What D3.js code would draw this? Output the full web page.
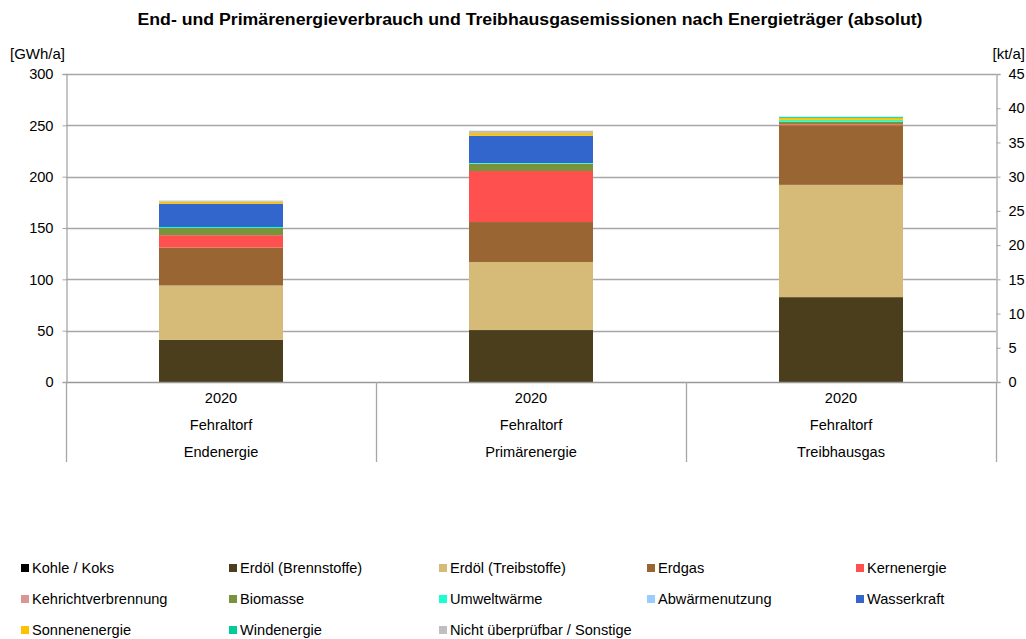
<!DOCTYPE html>
<html><head><meta charset="utf-8">
<script src="https://cdn.jsdelivr.net/npm/d3@7"></script>
<style>body{margin:0;background:#fff;} text{font-family:"Liberation Sans",Arial,sans-serif;fill:#000;}</style>
</head><body><svg id="c" width="1026" height="639"></svg>
<script>
const title = "End- und Primärenergieverbrauch und Treibhausgasemissionen nach Energieträger (absolut)";
const years = ["2020","2020","2020"];
const places = ["Fehraltorf","Fehraltorf","Fehraltorf"];
const categories = ["Endenergie","Primärenergie","Treibhausgas"];
const series = ["Kohle / Koks","Erdöl (Brennstoffe)","Erdöl (Treibstoffe)","Erdgas","Kernenergie",
  "Kehrichtverbrennung","Biomasse","Umweltwärme","Abwärmenutzung","Wasserkraft",
  "Sonnenenergie","Windenergie","Nicht überprüfbar / Sonstige"];
const colors = ["#000000","#4b3e1c","#d6bb78","#996633","#ff5050","#d99694","#77933c",
  "#1affd0","#99ccff","#3366cc","#ffc000","#00cc99","#bfbfbf"];
// GWh/a
const endenergie = [0, 41, 53, 37, 12, 0, 7, 1, 0, 22.7, 2, 0, 1];
const primaerenergie = [0, 50.6, 66.3, 38.9, 49.7, 0, 7.1, 0.7, 0, 26.6, 2.6, 0, 2.3];
// kt/a
const treibhausgas = [0, 12.4, 16.4, 8.6, 0.2, 0, 0.45, 0.25, 0, 0, 0.3, 0.15, 0];
const leftTicks = [0,50,100,150,200,250,300];
const rightTicks = [0,5,10,15,20,25,30,35,40,45];

const FS = "14.6px";
const svg = d3.select("#c");
const L = 66, R = 996, T = 74, B = 382;
const x = d3.scaleBand().domain(categories).range([L, R]).paddingInner(0).paddingOuter(0);
const yL = d3.scaleLinear().domain([0,300]).range([B, T]);
const yR = d3.scaleLinear().domain([0,45]).range([B, T]);

svg.append("text").attr("x", 530).attr("y", 25).attr("text-anchor","middle")
  .attr("textLength", 785).attr("lengthAdjust","spacingAndGlyphs")
  .style("font-weight","bold").style("font-size","16px").text(title);

// gridlines
svg.append("g").selectAll("line").data(leftTicks.slice(1)).join("line")
  .attr("x1", L).attr("x2", R)
  .attr("y1", d => Math.round(yL(d))+0.5).attr("y2", d => Math.round(yL(d))+0.5)
  .attr("stroke","#a6a6a6").attr("stroke-width",1.3);

// left axis
const gl = svg.append("g").attr("transform",`translate(${L+0.5},0)`)
  .call(d3.axisLeft(yL).tickValues(leftTicks).tickSize(4).tickPadding(9));
gl.select(".domain").attr("stroke","#a6a6a6").attr("stroke-width",1.3);
gl.selectAll(".tick line").attr("stroke","#a6a6a6");
gl.selectAll("text").style("font-size",FS).style("font-family","Liberation Sans, Arial");
// right axis
const gr = svg.append("g").attr("transform",`translate(${R+0.5},0)`)
  .call(d3.axisRight(yR).tickValues(rightTicks).tickSize(4).tickPadding(8));
gr.select(".domain").attr("stroke","#a6a6a6").attr("stroke-width",1.3);
gr.selectAll(".tick line").attr("stroke","#a6a6a6");
gr.selectAll("text").style("font-size",FS).style("font-family","Liberation Sans, Arial");

svg.append("text").attr("x", 10).attr("y", 59).style("font-size","15px").text("[GWh/a]");
svg.append("text").attr("x", 1025).attr("y", 59).attr("text-anchor","end").style("font-size","15px").text("[kt/a]");

// bars
const barData = [endenergie, primaerenergie, treibhausgas];
const scales = [yL, yL, yR];
const bw = x.bandwidth()*0.4;
barData.forEach((vals, i) => {
  const cx = x(categories[i]) + x.bandwidth()/2;
  const y = scales[i];
  let acc = 0;
  const segs = vals.map((v, k) => { const s = {k, y0: acc, y1: acc + v}; acc += v; return s; }).filter(s => s.y1 > s.y0);
  svg.append("g").selectAll("rect").data(segs).join("rect")
    .attr("x", cx - bw/2).attr("width", bw)
    .attr("y", s => y(s.y1)).attr("height", s => y(s.y0) - y(s.y1))
    .attr("fill", s => colors[s.k]);
});

// x axis baseline
svg.append("line").attr("x1", L).attr("x2", R).attr("y1", B+0.5).attr("y2", B+0.5)
  .attr("stroke","#999").attr("stroke-width",1.3);
// category separators
const seps = categories.map(c => x(c)).concat([R]);
svg.append("g").selectAll("line").data(seps).join("line")
  .attr("x1", d => Math.round(d)+0.5).attr("x2", d => Math.round(d)+0.5)
  .attr("y1", B).attr("y2", 462).attr("stroke","#a6a6a6").attr("stroke-width",1.3);
// category labels
const lab = svg.append("g");
categories.forEach((c, i) => {
  const cx = x(c) + x.bandwidth()/2;
  [years[i], places[i], c].forEach((t, j) => {
    lab.append("text").attr("x", cx).attr("y", 403 + j*27).attr("text-anchor","middle")
      .style("font-size",FS).text(t);
  });
});

// legend
const colX = [21, 229, 439, 647, 856];
const rowY = [568, 599, 630];
const lg = svg.append("g");
series.forEach((s, i) => {
  const cxl = colX[i % 5], cy = rowY[Math.floor(i/5)];
  lg.append("rect").attr("x", cxl).attr("y", cy - 4).attr("width", 8).attr("height", 8).attr("fill", colors[i]);
  lg.append("text").attr("x", cxl + 11).attr("y", cy + 5).style("font-size",FS).text(s);
});
</script></body></html>
